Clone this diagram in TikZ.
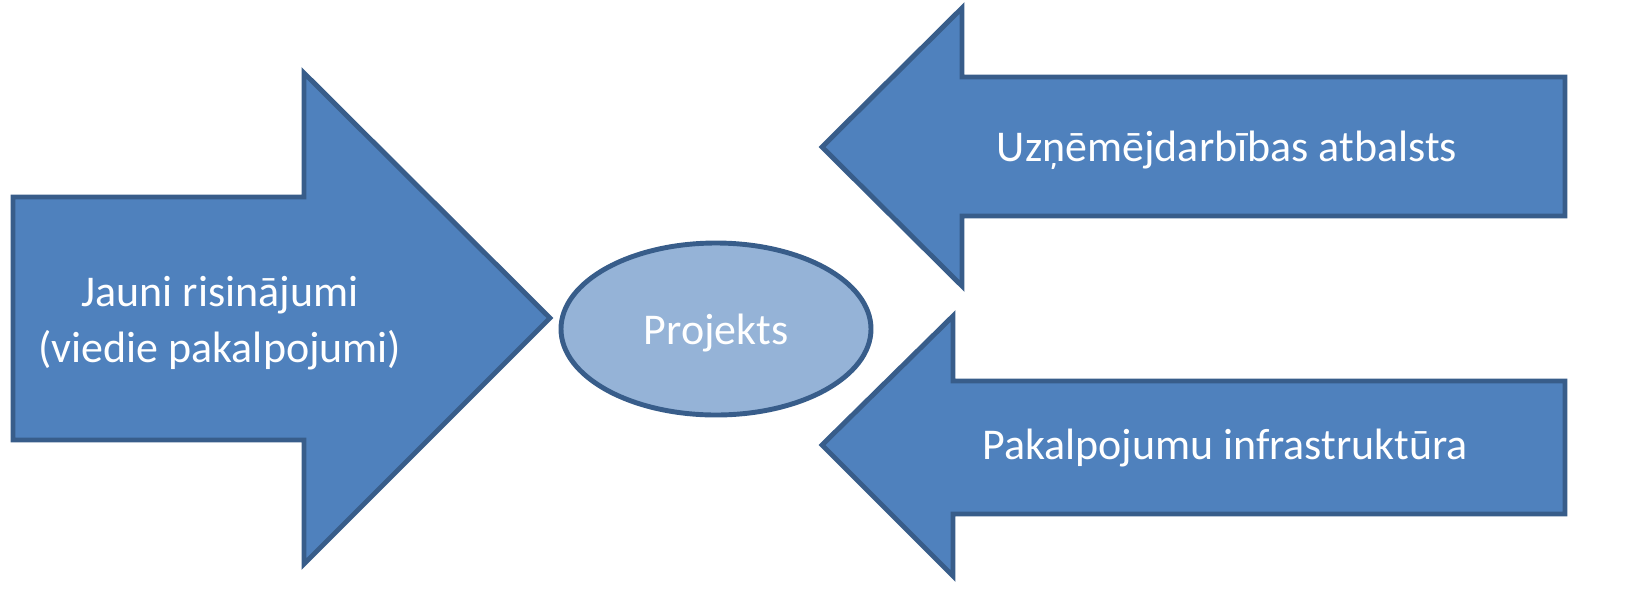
\documentclass[tikz,border=0pt]{standalone}
\usepackage{fontspec}
\setmainfont{Carlito}
\usetikzlibrary{positioning}
\definecolor{arrowblue}{HTML}{4F81BD}
\definecolor{edgeblue}{HTML}{385D8A}
\definecolor{lightblue}{HTML}{95B3D7}
\tikzset{
  blockarrow/.style={fill=arrowblue, draw=edgeblue, line width=2.8pt, line join=miter},
  label/.style={text=white, font=\fontsize{25}{31.5}\selectfont, align=center}
}
\begin{document}
\begin{tikzpicture}[x=0.02cm, y=-0.02cm]
        \useasboundingbox (0,0) rectangle (1634,600);
        % Left arrow (pointing right)
        \draw[blockarrow] (13,197) -- (304,197) -- (304,73) -- (550,318) -- (304,564) -- (304,440) -- (13,440) -- cycle;
        \node[label] (solutions) at (220,323) {Jauni risinājumi\\(viedie pakalpojumi)};
        % Upper right arrow
        \draw[blockarrow] (1565,77) -- (962,77) -- (962,8) -- (822,147) -- (962,286) -- (962,216) -- (1565,216) -- cycle;
        \node[label] (support) at (1227,150) {Uzņēmējdarbības atbalsts};
        % Lower right arrow
        \draw[blockarrow] (1565,381) -- (953,381) -- (953,316) -- (822,445) -- (953,576) -- (953,514) -- (1565,514) -- cycle;
        \node[label] (infra) at (1225,448) {Pakalpojumu infrastruktūra};
        % Centre ellipse
        \draw[fill=lightblue, draw=edgeblue, line width=2.8pt] (716,329) ellipse [x radius=155, y radius=86];
        \node[label] (project) at (716,333) {Projekts};
\end{tikzpicture}
\end{document}
